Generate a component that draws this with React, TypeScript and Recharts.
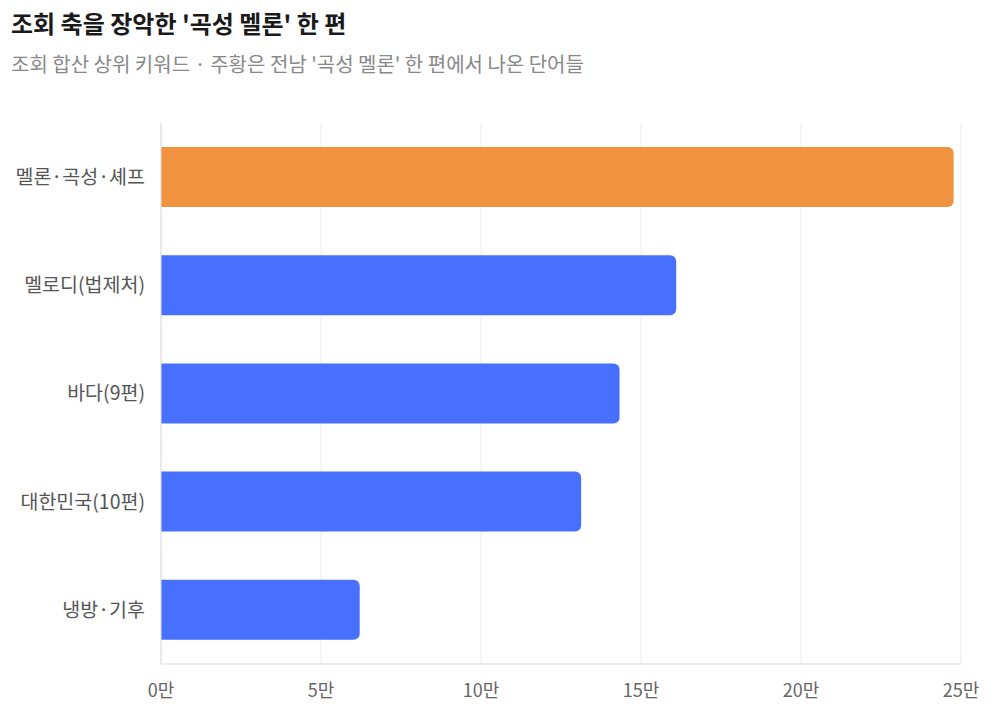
import { BarChart, Bar, XAxis, YAxis, CartesianGrid, Cell } from 'recharts';

const TITLE = "조회 축을 장악한 '곡성 멜론' 한 편";
const SUBTITLE = "조회 합산 상위 키워드 · 주황은 전남 '곡성 멜론' 한 편에서 나온 단어들";

const keywords = ['멜론·곡성·셰프', '멜로디(법제처)', '바다(9편)', '대한민국(10편)', '냉방·기후'];
const views = [247700, 161000, 143300, 131300, 62100];
const highlight = [true, false, false, false, false];
const xTicks = [0, 50000, 100000, 150000, 200000, 250000];

const data = keywords.map((name, i) => ({ name, views: views[i], hl: highlight[i] }));

const FONT = '"Noto Sans CJK KR", "Noto Sans", sans-serif';

export default function App() {
  return (
    <div style={{ position: 'relative', width: 999, height: 717, margin: -8, fontFamily: FONT, background: '#fff' }}>
      <div style={{ position: 'absolute', left: 11, top: 5, fontSize: 24, fontWeight: 700, color: '#1a1a1a', lineHeight: '36px' }}>{TITLE}</div>
      <div style={{ position: 'absolute', left: 11, top: 50, fontSize: 20, color: '#888', lineHeight: '28px' }}>{SUBTITLE}</div>
      <div style={{ position: 'absolute', left: 0, top: 0 }}>
        <BarChart width={999} height={717} data={data} layout="vertical"
          margin={{ top: 123, right: 38, bottom: 23, left: 11 }}>
          <CartesianGrid horizontal={false} stroke="#ececec" />
          <XAxis type="number" domain={[0, 250000]} ticks={xTicks} interval={0}
            tickFormatter={(v) => `${v / 10000}만`} height={30}
            axisLine={{ stroke: '#dddddd' }} tickLine={false} tickMargin={14}
            tick={{ fill: '#666', fontSize: 18, fontFamily: FONT }} />
          <YAxis type="category" dataKey="name" width={150}
            axisLine={{ stroke: '#dddddd' }} tickLine={false} tickMargin={10}
            tick={{ fill: '#555', fontSize: 19.5, fontFamily: FONT }} />
          <Bar dataKey="views" barSize={60} radius={[0, 6, 6, 0]} isAnimationActive={false}>
            {data.map((d, i) => (<Cell key={i} fill={d.hl ? '#F0923E' : '#4870FF'} />))}
          </Bar>
        </BarChart>
      </div>
    </div>
  );
}
